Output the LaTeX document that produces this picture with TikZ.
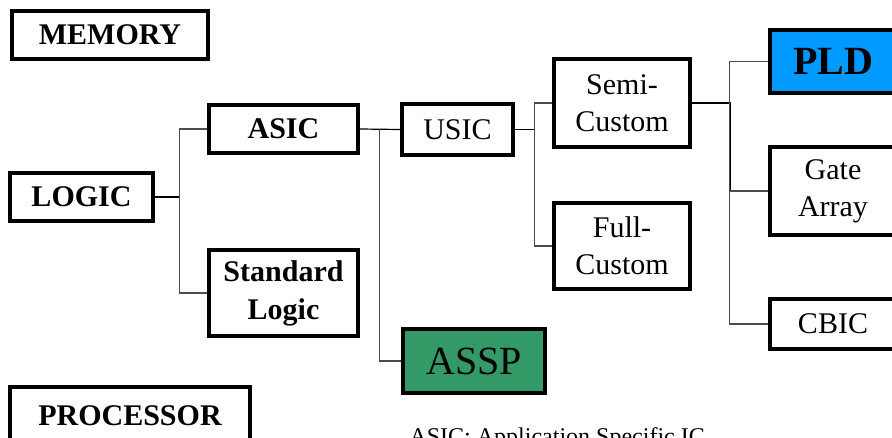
\documentclass[tikz,border=0pt]{standalone}
\usepackage{fontspec}
\setmainfont{Liberation Serif}
\usetikzlibrary{calc}
\definecolor{pldblue}{RGB}{0,153,255}
\definecolor{asspgreen}{RGB}{51,153,102}
\tikzset{
  box/.style={draw,line width=3.5pt,inner sep=0pt,align=center,font=\fontsize{30}{37}\selectfont},
  bbox/.style={box,font=\fontsize{30}{38}\selectfont\bfseries},
  trunk/.style={line width=1.8pt},
  branch/.style={line width=1.2pt,color=black!70},
}

\begin{document}
\begin{tikzpicture}[x=1pt,y=-1pt]
            \useasboundingbox (0,0) rectangle (892,437);
            \node[bbox,minimum width=196pt,minimum height=48pt] (memory) at (110,35) {MEMORY};
            \node[bbox,minimum width=143pt,minimum height=48pt] (logic) at (81.5,197) {LOGIC};
            \node[bbox,minimum width=240pt,minimum height=58pt] (proc) at (130,416) {PROCESSOR};
            \node[bbox,minimum width=149pt,minimum height=48pt] (asic) at (283.5,129) {ASIC};
            \node[bbox,minimum width=149pt,minimum height=86pt] (std) at (283.5,293) {Standard\\Logic};
            \node[box,minimum width=111pt,minimum height=51pt] (usic) at (457.5,129.5) {USIC};
            \node[box,fill=asspgreen,minimum width=142pt,minimum height=64pt,font=\fontsize{40}{44}\selectfont] (assp) at (474,361) {ASSP};
            \node[box,minimum width=136pt,minimum height=88pt] (semi) at (622,103) {Semi-\\Custom};
            \node[box,minimum width=136pt,minimum height=86pt] (full) at (622,246) {Full-\\Custom};
            \node[bbox,fill=pldblue,minimum width=126pt,minimum height=63pt,font=\fontsize{40}{44}\selectfont\bfseries] (pld) at (833,61.5) {PLD};
            \node[box,minimum width=126pt,minimum height=88pt] (gate) at (833,191) {Gate\\Array};
            \node[box,minimum width=126pt,minimum height=50pt] (cbic) at (833,324) {CBIC};
            \node[anchor=base west,font=\fontsize{24}{28}\selectfont] (note) at (406,444) {ASIC: Application Specific IC};
            \coordinate (b1) at ($(logic.east)+(25,0)$);
            \coordinate (b2) at ($(asic.east)+(20,0)$);
            \coordinate (b3) at ($(usic.east)+(20,0)$);
            \coordinate (b4) at ($(semi.east)+(38,0)$);
            \draw[trunk] (logic.east) -- (b1);
            \draw[branch] (asic.west) -| (b1) |- (std.west);
            \draw[branch,black] (asic.east) -- (usic.west);
            \draw[branch] (b2) |- (assp.west);
            \draw[branch,black] (usic.east) -- (b3);
            \draw[branch] (semi.west) -| (b3) |- (full.west);
            \draw[trunk] (semi.east) -- (b4) -- (b4 |- gate.west);
            \draw[branch] (pld.west) -| (b4) |- (gate.west);
            \draw[branch] (b4 |- gate.west) |- (cbic.west);
        \end{tikzpicture}
\end{document}
